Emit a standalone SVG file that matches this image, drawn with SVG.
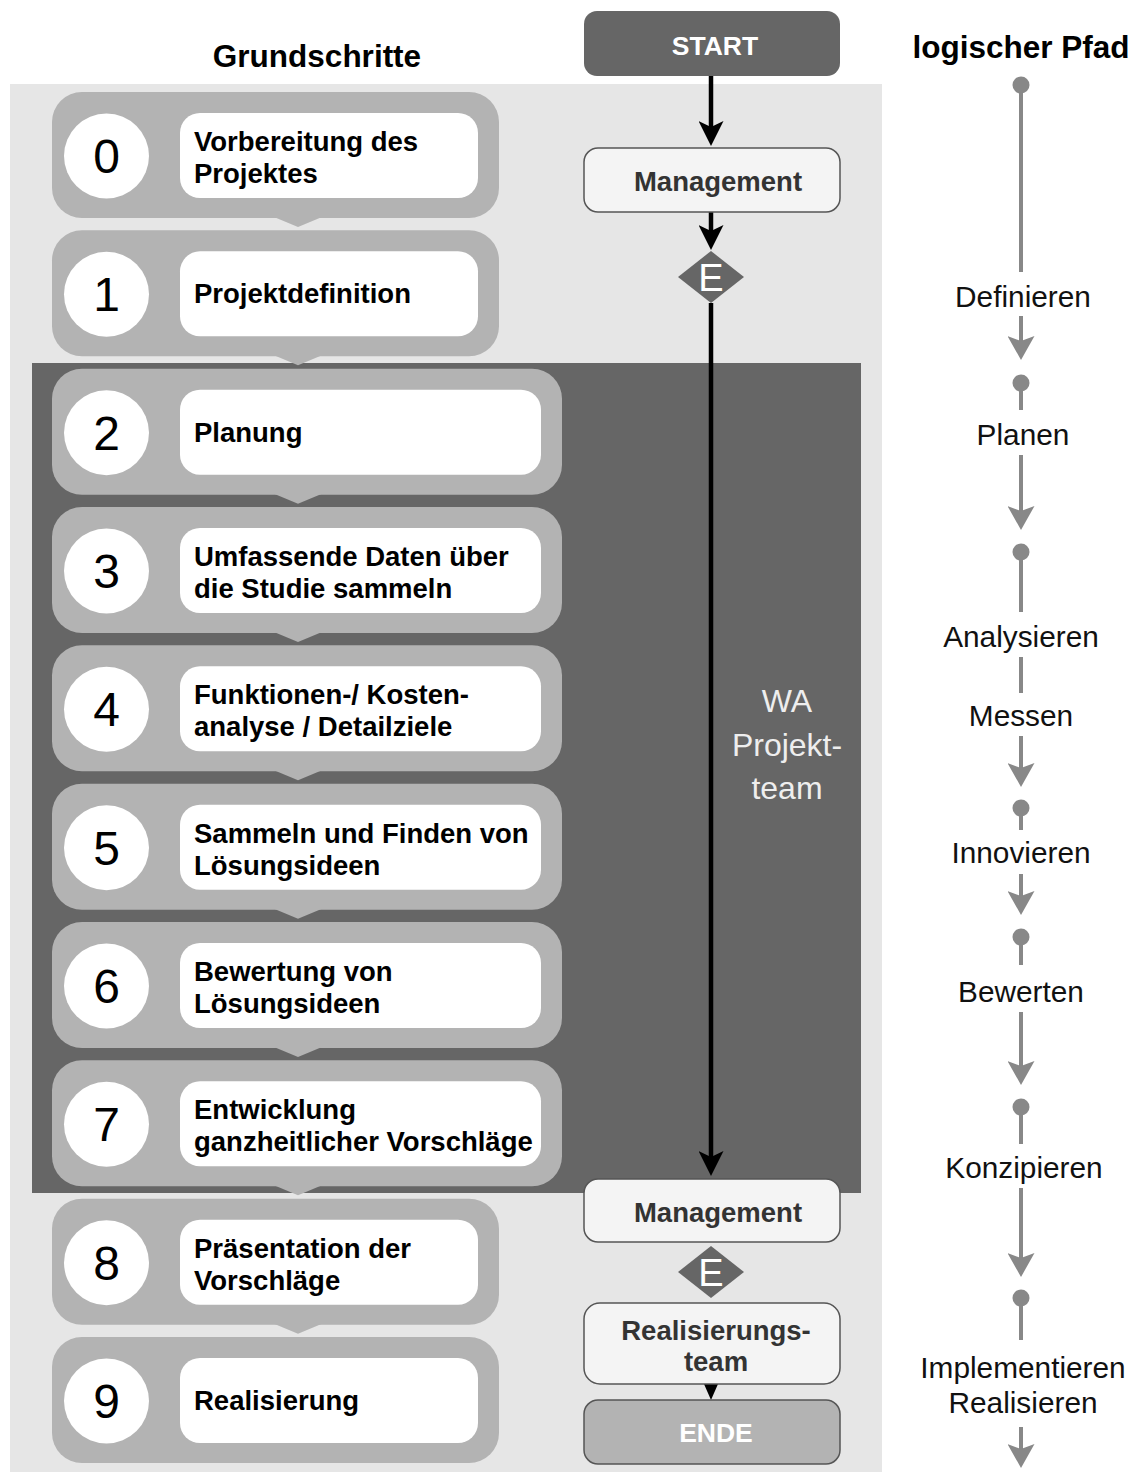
<svg xmlns="http://www.w3.org/2000/svg" width="1139" height="1472" viewBox="0 0 1139 1472">
<style>
.title{font-family:"Liberation Sans",Arial,sans-serif;font-weight:bold;font-size:31.5px;fill:#000}
.outer{fill:#b3b3b3}
.inner{fill:#fff}
.circ{fill:#fff}
.num{font-family:"Liberation Sans",Arial,sans-serif;font-size:48px;fill:#000;text-anchor:middle}
.stxt{font-family:"Liberation Sans",Arial,sans-serif;font-weight:bold;font-size:27.5px;fill:#000}
.box{fill:#f4f4f4;stroke:#555;stroke-width:1.5}
.btxt{font-family:"Liberation Sans",Arial,sans-serif;font-weight:bold;font-size:27.5px;fill:#333;text-anchor:middle}
.wtxt{font-family:"Liberation Sans",Arial,sans-serif;font-weight:bold;font-size:26.5px;fill:#fff;text-anchor:middle}
.dia{fill:#666}
.etxt{font-family:"Liberation Sans",Arial,sans-serif;font-size:38px;fill:#fff;text-anchor:middle}
.wa{font-family:"Liberation Sans",Arial,sans-serif;font-size:32px;fill:#eee;text-anchor:middle}
.blk{stroke:#000;stroke-width:4.5;fill:none}
.gry{stroke:#888;stroke-width:4;fill:none}
.dot{fill:#888}
.rtxt{font-family:"Liberation Sans",Arial,sans-serif;font-size:29.8px;fill:#111;text-anchor:middle}
</style>
<defs>
<marker id="ab" markerUnits="userSpaceOnUse" markerWidth="25" markerHeight="25" viewBox="0 0 25 25" refX="15" refY="12.5" orient="auto">
<path d="M0,0 L25,12.5 L0,25 L6,12.5 Z" fill="#000"/>
</marker>
<marker id="ag" markerUnits="userSpaceOnUse" markerWidth="24" markerHeight="27" viewBox="0 0 24 27" refX="14" refY="13.5" orient="auto">
<path d="M0,0 L24,13.5 L0,27 L5,13.5 Z" fill="#888"/>
</marker>
</defs>

<rect x="10" y="84" width="872" height="1388" fill="#e6e6e6"/>
<rect x="32" y="363" width="829" height="830" fill="#666"/>

<text class="title" x="317" y="67" text-anchor="middle">Grundschritte</text>
<text class="title" x="1021" y="58" text-anchor="middle">logischer Pfad</text>

<g id="step0">
<rect class="outer" x="52" y="92" width="447" height="126" rx="30"/>
<polygon class="outer" points="274,217 298,227 322,217"/>
<circle class="circ" cx="106.5" cy="156" r="42.5"/>
<text class="num" x="106.5" y="173">0</text>
<rect class="inner" x="180" y="113" width="298" height="85" rx="20"/>
<text class="stxt" x="194" y="151">Vorbereitung des</text>
<text class="stxt" x="194" y="183">Projektes</text>
</g>
<g id="step1">
<rect class="outer" x="52" y="230.3" width="447" height="126" rx="30"/>
<polygon class="outer" points="274,355.3 298,365.3 322,355.3"/>
<circle class="circ" cx="106.5" cy="294.3" r="42.5"/>
<text class="num" x="106.5" y="311.3">1</text>
<rect class="inner" x="180" y="251.3" width="298" height="85" rx="20"/>
<text class="stxt" x="194" y="303.3">Projektdefinition</text>
</g>
<g id="step2">
<rect class="outer" x="52" y="368.7" width="510" height="126" rx="30"/>
<polygon class="outer" points="274,493.7 298,503.7 322,493.7"/>
<circle class="circ" cx="106.5" cy="432.7" r="42.5"/>
<text class="num" x="106.5" y="449.7">2</text>
<rect class="inner" x="180" y="389.7" width="361" height="85" rx="20"/>
<text class="stxt" x="194" y="441.7">Planung</text>
</g>
<g id="step3">
<rect class="outer" x="52" y="507" width="510" height="126" rx="30"/>
<polygon class="outer" points="274,632 298,642 322,632"/>
<circle class="circ" cx="106.5" cy="571" r="42.5"/>
<text class="num" x="106.5" y="588">3</text>
<rect class="inner" x="180" y="528" width="361" height="85" rx="20"/>
<text class="stxt" x="194" y="566">Umfassende Daten über</text>
<text class="stxt" x="194" y="598">die Studie sammeln</text>
</g>
<g id="step4">
<rect class="outer" x="52" y="645.3" width="510" height="126" rx="30"/>
<polygon class="outer" points="274,770.3 298,780.3 322,770.3"/>
<circle class="circ" cx="106.5" cy="709.3" r="42.5"/>
<text class="num" x="106.5" y="726.3">4</text>
<rect class="inner" x="180" y="666.3" width="361" height="85" rx="20"/>
<text class="stxt" x="194" y="704.3">Funktionen-/ Kosten-</text>
<text class="stxt" x="194" y="736.3">analyse / Detailziele</text>
</g>
<g id="step5">
<rect class="outer" x="52" y="783.7" width="510" height="126" rx="30"/>
<polygon class="outer" points="274,908.7 298,918.7 322,908.7"/>
<circle class="circ" cx="106.5" cy="847.7" r="42.5"/>
<text class="num" x="106.5" y="864.7">5</text>
<rect class="inner" x="180" y="804.7" width="361" height="85" rx="20"/>
<text class="stxt" x="194" y="842.7">Sammeln und Finden von</text>
<text class="stxt" x="194" y="874.7">Lösungsideen</text>
</g>
<g id="step6">
<rect class="outer" x="52" y="922" width="510" height="126" rx="30"/>
<polygon class="outer" points="274,1047 298,1057 322,1047"/>
<circle class="circ" cx="106.5" cy="986" r="42.5"/>
<text class="num" x="106.5" y="1003">6</text>
<rect class="inner" x="180" y="943" width="361" height="85" rx="20"/>
<text class="stxt" x="194" y="981">Bewertung von</text>
<text class="stxt" x="194" y="1013">Lösungsideen</text>
</g>
<g id="step7">
<rect class="outer" x="52" y="1060.3" width="510" height="126" rx="30"/>
<polygon class="outer" points="274,1185.3 298,1195.3 322,1185.3"/>
<circle class="circ" cx="106.5" cy="1124.3" r="42.5"/>
<text class="num" x="106.5" y="1141.3">7</text>
<rect class="inner" x="180" y="1081.3" width="361" height="85" rx="20"/>
<text class="stxt" x="194" y="1119.3">Entwicklung</text>
<text class="stxt" x="194" y="1151.3">ganzheitlicher Vorschläge</text>
</g>
<g id="step8">
<rect class="outer" x="52" y="1198.7" width="447" height="126" rx="30"/>
<polygon class="outer" points="274,1323.7 298,1333.7 322,1323.7"/>
<circle class="circ" cx="106.5" cy="1262.7" r="42.5"/>
<text class="num" x="106.5" y="1279.7">8</text>
<rect class="inner" x="180" y="1219.7" width="298" height="85" rx="20"/>
<text class="stxt" x="194" y="1257.7">Präsentation der</text>
<text class="stxt" x="194" y="1289.7">Vorschläge</text>
</g>
<g id="step9">
<rect class="outer" x="52" y="1337" width="447" height="126" rx="30"/>
<circle class="circ" cx="106.5" cy="1401" r="42.5"/>
<text class="num" x="106.5" y="1418">9</text>
<rect class="inner" x="180" y="1358" width="298" height="85" rx="20"/>
<text class="stxt" x="194" y="1410">Realisierung</text>
</g>

<g id="wa-label">
<text class="wa" x="787" y="712">WA</text>
<text class="wa" x="787" y="756">Projekt-</text>
<text class="wa" x="787" y="799">team</text>
</g>

<g id="connectors">
<line class="blk" x1="711" y1="76" x2="711" y2="136" marker-end="url(#ab)"/>
<line class="blk" x1="711" y1="212" x2="711" y2="240" marker-end="url(#ab)"/>
<line class="blk" x1="711" y1="303" x2="711" y2="1166" marker-end="url(#ab)"/>
<polygon points="704,1384 718,1384 711,1400" fill="#000"/>
</g>

<g id="start">
<rect x="584" y="11" width="256" height="65" rx="13" fill="#666"/>
<text class="wtxt" x="715" y="55">START</text>
</g>
<g id="management1">
<rect class="box" x="584" y="148" width="256" height="64" rx="14"/>
<text class="btxt" x="718" y="191">Management</text>
</g>
<g id="decision1">
<polygon class="dia" points="711,251 744,277 711,303 678,277"/>
<text class="etxt" x="711" y="291">E</text>
</g>
<g id="management2">
<rect class="box" x="584" y="1179" width="256" height="63" rx="14"/>
<text class="btxt" x="718" y="1222">Management</text>
</g>
<g id="decision2">
<polygon class="dia" points="711,1246 744,1272 711,1298 678,1272"/>
<text class="etxt" x="711" y="1286">E</text>
</g>
<g id="realisierungsteam">
<rect class="box" x="584" y="1303" width="256" height="81" rx="16"/>
<text class="btxt" x="716" y="1340">Realisierungs-</text>
<text class="btxt" x="716" y="1371">team</text>
</g>
<g id="ende">
<rect x="584" y="1400" width="256" height="64" rx="14" fill="#b3b3b3" stroke="#555" stroke-width="1.5"/>
<text class="wtxt" x="716" y="1442">ENDE</text>
</g>

<g id="logical-path">
<circle class="dot" cx="1021" cy="85" r="8.5"/>
<line class="gry" x1="1021" y1="85" x2="1021" y2="272"/>
<text class="rtxt" x="1023" y="307">Definieren</text>
<line class="gry" x1="1021" y1="316" x2="1021" y2="350" marker-end="url(#ag)"/>

<circle class="dot" cx="1021" cy="383" r="8.5"/>
<line class="gry" x1="1021" y1="383" x2="1021" y2="410"/>
<text class="rtxt" x="1023" y="445">Planen</text>
<line class="gry" x1="1021" y1="455" x2="1021" y2="520" marker-end="url(#ag)"/>

<circle class="dot" cx="1021" cy="552" r="8.5"/>
<line class="gry" x1="1021" y1="552" x2="1021" y2="612"/>
<text class="rtxt" x="1021" y="647">Analysieren</text>
<line class="gry" x1="1021" y1="657" x2="1021" y2="693"/>
<text class="rtxt" x="1021" y="726">Messen</text>
<line class="gry" x1="1021" y1="736" x2="1021" y2="777" marker-end="url(#ag)"/>

<circle class="dot" cx="1021" cy="808" r="8.5"/>
<line class="gry" x1="1021" y1="808" x2="1021" y2="830"/>
<text class="rtxt" x="1021" y="863">Innovieren</text>
<line class="gry" x1="1021" y1="874" x2="1021" y2="905" marker-end="url(#ag)"/>

<circle class="dot" cx="1021" cy="937" r="8.5"/>
<line class="gry" x1="1021" y1="937" x2="1021" y2="965"/>
<text class="rtxt" x="1021" y="1002">Bewerten</text>
<line class="gry" x1="1021" y1="1012" x2="1021" y2="1075" marker-end="url(#ag)"/>

<circle class="dot" cx="1021" cy="1107" r="8.5"/>
<line class="gry" x1="1021" y1="1107" x2="1021" y2="1144"/>
<text class="rtxt" x="1024" y="1178">Konzipieren</text>
<line class="gry" x1="1021" y1="1188" x2="1021" y2="1267" marker-end="url(#ag)"/>

<circle class="dot" cx="1021" cy="1298" r="8.5"/>
<line class="gry" x1="1021" y1="1298" x2="1021" y2="1340"/>
<text class="rtxt" x="1023" y="1378">Implementieren</text>
<text class="rtxt" x="1023" y="1413">Realisieren</text>
<line class="gry" x1="1021" y1="1427" x2="1021" y2="1458" marker-end="url(#ag)"/>
</g>
</svg>
